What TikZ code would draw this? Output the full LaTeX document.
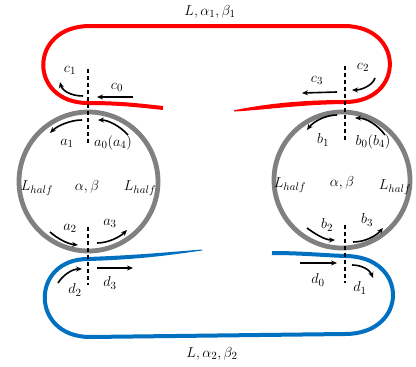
\documentclass[tikz,border=0pt]{standalone}
\usetikzlibrary{arrows.meta}
\definecolor{myred}{RGB}{255,0,0}
\definecolor{myblue}{RGB}{0,112,192}
\definecolor{mygray}{RGB}{128,128,128}
\begin{document}
\begin{tikzpicture}[x=1pt,y=-1pt,
  ring/.style={draw=mygray,line width=4.8pt},
  redline/.style={draw=myred,line width=4pt},
  blueline/.style={draw=myblue,line width=4pt},
  cut/.style={line width=1.5pt, dash pattern=on 4pt off 3pt},
  arr/.style={-{Stealth[length=6pt,width=5pt]}, line width=1.6pt},
  lbl/.style={font=\fontsize{15}{18}\selectfont, inner sep=0pt}]
\useasboundingbox (0,0) rectangle (416,367);

% rollers
\draw[ring] (88.5,181.5) circle[radius=69.5];
\draw[ring] (342,180) circle[radius=68];

% red strip
\draw[redline] (163,108) .. controls (140,105.5) and (120,103) .. (88,103)
  .. controls (28,103) and (28,26) .. (90,26) -- (344,26)
  .. controls (405,26) and (405,102) .. (345,102);
\fill[myred] (345,100) .. controls (300,100) and (265,104) .. (234,110.3)
  -- (234,111.5) .. controls (265,110) and (300,104.5) .. (345,104) -- cycle;

% blue strip
\draw[blueline] (88,259) .. controls (30,259) and (30,337) .. (90,337) -- (345,334)
  .. controls (409,334) and (409,256) .. (345,256)
  .. controls (320,255) and (300,253) .. (272,253);
\fill[myblue] (88,257) .. controls (140,255) and (170,252) .. (202,249.5)
  -- (202,250.5) .. controls (170,255) and (140,259.5) .. (88,261) -- cycle;

% cut lines
\coordinate (k1a) at (88,69);  \coordinate (k1b) at (88,143);
\coordinate (k2a) at (88,227); \coordinate (k2b) at (88,285);
\coordinate (k3a) at (345,66); \coordinate (k3b) at (345,140);
\coordinate (k4a) at (345,225);\coordinate (k4b) at (345,283);
\draw[cut] (k1a) -- (k1b);
\draw[cut] (k2a) -- (k2b);
\draw[cut] (k3a) -- (k3b);
\draw[cut] (k4a) -- (k4b);

% arrows left
\draw[arr] (83,96) .. controls (70,96) and (62,90) .. (60,82);
\draw[arr] (133,97) -- (97,97);
\draw[arr] (82,120) .. controls (70,120) and (57,126) .. (50,133);
\draw[arr] (128,135) .. controls (120,126) and (108,120) .. (98,120);
\draw[arr] (50,232) .. controls (58,239) and (68,244) .. (78,245);
\draw[arr] (97,243) .. controls (108,243) and (120,237) .. (127,230);
\draw[arr] (58,283) .. controls (63,275) and (72,269) .. (82,269);
\draw[arr] (97,268) -- (133,268);

% arrows right
\draw[arr] (375,78) .. controls (373,85) and (362,90) .. (352,90);
\draw[arr] (337,92) -- (302,93);
\draw[arr] (337,115) .. controls (325,115) and (313,122) .. (307,130);
\draw[arr] (385,135) .. controls (378,125) and (366,118) .. (355,118);
\draw[arr] (307,228) .. controls (315,234) and (325,240) .. (335,240);
\draw[arr] (353,242) .. controls (365,242) and (376,236) .. (383,228);
\draw[arr] (300,263) -- (337,263);
\draw[arr] (352,265) .. controls (362,265) and (370,270) .. (373,278);

% labels
\node[lbl] (t1) at (210,12) {$L,\alpha_1,\beta_1$};
\node[lbl] (t2) at (212,354) {$L,\alpha_2,\beta_2$};
\node[lbl] (c1) at (70,70) {$c_1$};
\node[lbl] (c0) at (117,87) {$c_0$};
\node[lbl] (c2) at (363,67) {$c_2$};
\node[lbl] (c3) at (317,80) {$c_3$};
\node[lbl] (a1) at (67,143) {$a_1$};
\node[lbl] (a0) at (113,143) {$a_0(a_4)$};
\node[lbl] (lh1) at (37,188) {$L_{half}$};
\node[lbl] (ab1) at (87,187) {$\alpha,\beta$};
\node[lbl] (lh2) at (140,188) {$L_{half}$};
\node[lbl] (a2) at (70,228) {$a_2$};
\node[lbl] (a3) at (110,223) {$a_3$};
\node[lbl] (b1) at (323,140) {$b_1$};
\node[lbl] (b0) at (373,142) {$b_0(b_4)$};
\node[lbl] (lh3) at (290,185) {$L_{half}$};
\node[lbl] (ab2) at (342,183) {$\alpha,\beta$};
\node[lbl] (lh4) at (395,187) {$L_{half}$};
\node[lbl] (b2) at (327,225) {$b_2$};
\node[lbl] (b3) at (367,220) {$b_3$};
\node[lbl] (d2) at (75,290) {$d_2$};
\node[lbl] (d3) at (110,283) {$d_3$};
\node[lbl] (d0) at (318,280) {$d_0$};
\node[lbl] (d1) at (360,288) {$d_1$};
\end{tikzpicture}
\end{document}
